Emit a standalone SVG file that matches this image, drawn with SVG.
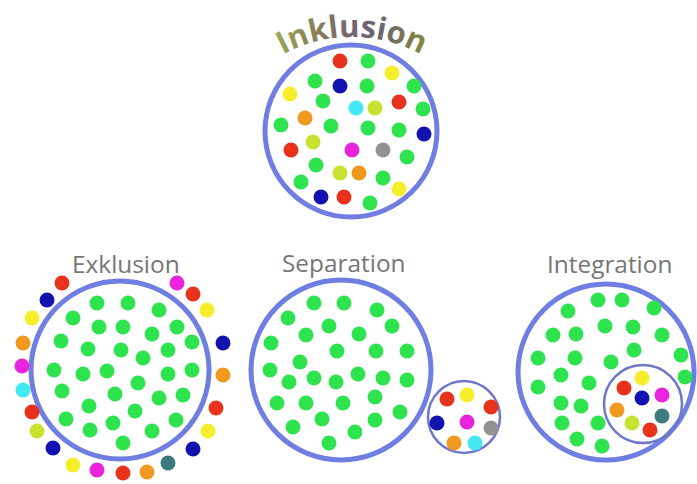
<svg xmlns="http://www.w3.org/2000/svg" width="697" height="484" viewBox="0 0 697 484">
<style>
.ring{fill:none;stroke:#6f7ee0;stroke-width:5}
.ring2{fill:none;stroke:#6f78c8;stroke-width:2.5}
.lbl{font-family:"Open Sans","Liberation Sans",sans-serif;font-size:24.4px;fill:#767676}
.g{fill:#2fe34f}.r{fill:#e8321c}.b{fill:#1212b0}.y{fill:#f6ee2c}.o{fill:#f0991f}
.m{fill:#e824dc}.c{fill:#44e8f2}.yg{fill:#c9e232}.gr{fill:#939393}.t{fill:#3b7a7e}
</style>
<defs>
<linearGradient id="ink" x1="280" y1="0" x2="425" y2="0" gradientUnits="userSpaceOnUse">
<stop offset="0" stop-color="#9aa35a"/>
<stop offset="0.3" stop-color="#86775a"/>
<stop offset="0.5" stop-color="#756272"/>
<stop offset="0.7" stop-color="#6b6670"/>
<stop offset="1" stop-color="#86883a"/>
</linearGradient>
<path id="arc" d="M 242 87.5 A 145 145 0 0 1 462 87.5"/>
</defs>
<rect width="697" height="484" fill="#fff"/>

<g id="inklusion">
<text font-family="'Open Sans','Liberation Sans',sans-serif" font-size="31" font-weight="bold" fill="url(#ink)"><textPath href="#arc" startOffset="50%" text-anchor="middle">Inklusion</textPath></text>
<circle class="ring" cx="351" cy="131" r="86"/>
<circle class="r" cx="340" cy="61" r="7.5"/><circle class="g" cx="368" cy="61" r="7.5"/><circle class="y" cx="392" cy="73" r="7.5"/>
<circle class="g" cx="315" cy="81" r="7.5"/><circle class="b" cx="340" cy="86" r="7.5"/><circle class="g" cx="367" cy="86" r="7.5"/>
<circle class="g" cx="414" cy="86" r="7.5"/><circle class="y" cx="290" cy="94" r="7.5"/><circle class="g" cx="323" cy="101" r="7.5"/>
<circle class="r" cx="399" cy="102" r="7.5"/><circle class="c" cx="356" cy="108" r="7.5"/><circle class="yg" cx="375" cy="108" r="7.5"/>
<circle class="g" cx="423" cy="109" r="7.5"/><circle class="o" cx="305" cy="118" r="7.5"/><circle class="g" cx="281" cy="125" r="7.5"/>
<circle class="g" cx="331" cy="126" r="7.5"/><circle class="g" cx="368" cy="128" r="7.5"/><circle class="g" cx="399" cy="130" r="7.5"/>
<circle class="b" cx="424" cy="134" r="7.5"/><circle class="yg" cx="313" cy="142" r="7.5"/><circle class="r" cx="291" cy="150" r="7.5"/>
<circle class="m" cx="352" cy="150" r="7.5"/><circle class="gr" cx="383" cy="150" r="7.5"/><circle class="g" cx="407" cy="157" r="7.5"/>
<circle class="g" cx="316" cy="165" r="7.5"/><circle class="yg" cx="340" cy="173" r="7.5"/><circle class="o" cx="359" cy="173" r="7.5"/>
<circle class="g" cx="383" cy="178" r="7.5"/><circle class="g" cx="301" cy="182" r="7.5"/><circle class="y" cx="399" cy="189" r="7.5"/>
<circle class="b" cx="321" cy="197" r="7.5"/><circle class="r" cx="344" cy="197" r="7.5"/><circle class="g" cx="370" cy="203" r="7.5"/>
</g>

<g id="exklusion">
<text class="lbl" x="72" y="273">Exklusion</text>
<circle class="ring" cx="120" cy="370" r="89"/>
<circle class="r" cx="62" cy="283" r="7.5"/><circle class="b" cx="47" cy="300" r="7.5"/><circle class="y" cx="32" cy="318" r="7.5"/>
<circle class="o" cx="23" cy="343" r="7.5"/><circle class="m" cx="22" cy="366" r="7.5"/><circle class="c" cx="23" cy="390" r="7.5"/>
<circle class="r" cx="32" cy="412" r="7.5"/><circle class="yg" cx="37" cy="431" r="7.5"/><circle class="b" cx="53" cy="448" r="7.5"/>
<circle class="y" cx="73" cy="465" r="7.5"/><circle class="m" cx="97" cy="470" r="7.5"/><circle class="r" cx="123" cy="473" r="7.5"/>
<circle class="o" cx="147" cy="472" r="7.5"/><circle class="t" cx="168" cy="463" r="7.5"/><circle class="b" cx="193" cy="449" r="7.5"/>
<circle class="y" cx="208" cy="431" r="7.5"/><circle class="r" cx="216" cy="408" r="7.5"/><circle class="o" cx="223" cy="375" r="7.5"/>
<circle class="b" cx="223" cy="343" r="7.5"/><circle class="y" cx="207" cy="310" r="7.5"/><circle class="r" cx="193" cy="294" r="7.5"/>
<circle class="m" cx="177" cy="283" r="7.5"/>
<g class="g">
<circle cx="97" cy="303" r="7.5"/><circle cx="128" cy="303" r="7.5"/><circle cx="159" cy="310" r="7.5"/><circle cx="73" cy="318" r="7.5"/>
<circle cx="99" cy="327" r="7.5"/><circle cx="123" cy="327" r="7.5"/><circle cx="152" cy="334" r="7.5"/><circle cx="177" cy="327" r="7.5"/>
<circle cx="61" cy="341" r="7.5"/><circle cx="88" cy="349" r="7.5"/><circle cx="121" cy="350" r="7.5"/><circle cx="168" cy="350" r="7.5"/>
<circle cx="192" cy="342" r="7.5"/><circle cx="143" cy="358" r="7.5"/><circle cx="54" cy="370" r="7.5"/><circle cx="83" cy="374" r="7.5"/>
<circle cx="107" cy="371" r="7.5"/><circle cx="168" cy="374" r="7.5"/><circle cx="192" cy="370" r="7.5"/><circle cx="138" cy="383" r="7.5"/>
<circle cx="62" cy="391" r="7.5"/><circle cx="115" cy="394" r="7.5"/><circle cx="159" cy="398" r="7.5"/><circle cx="183" cy="395" r="7.5"/>
<circle cx="89" cy="406" r="7.5"/><circle cx="135" cy="411" r="7.5"/><circle cx="66" cy="419" r="7.5"/><circle cx="113" cy="423" r="7.5"/>
<circle cx="176" cy="420" r="7.5"/><circle cx="90" cy="430" r="7.5"/><circle cx="152" cy="431" r="7.5"/><circle cx="123" cy="443" r="7.5"/>
</g>
</g>

<g id="separation">
<text class="lbl" x="282" y="272">Separation</text>
<circle class="ring" cx="341" cy="370" r="90"/>
<g class="g">
<circle cx="314" cy="303" r="7.5"/><circle cx="344" cy="303" r="7.5"/><circle cx="377" cy="310" r="7.5"/><circle cx="288" cy="318" r="7.5"/>
<circle cx="329" cy="326" r="7.5"/><circle cx="392" cy="326" r="7.5"/><circle cx="306" cy="335" r="7.5"/><circle cx="359" cy="334" r="7.5"/>
<circle cx="271" cy="343" r="7.5"/><circle cx="337" cy="351" r="7.5"/><circle cx="376" cy="351" r="7.5"/><circle cx="407" cy="351" r="7.5"/>
<circle cx="300" cy="362" r="7.5"/><circle cx="270" cy="370" r="7.5"/><circle cx="358" cy="374" r="7.5"/><circle cx="289" cy="382" r="7.5"/>
<circle cx="314" cy="378" r="7.5"/><circle cx="336" cy="382" r="7.5"/><circle cx="383" cy="378" r="7.5"/><circle cx="407" cy="380" r="7.5"/>
<circle cx="375" cy="397" r="7.5"/><circle cx="277" cy="403" r="7.5"/><circle cx="306" cy="403" r="7.5"/><circle cx="343" cy="403" r="7.5"/>
<circle cx="400" cy="412" r="7.5"/><circle cx="322" cy="419" r="7.5"/><circle cx="375" cy="420" r="7.5"/><circle cx="293" cy="427" r="7.5"/>
<circle cx="355" cy="432" r="7.5"/><circle cx="329" cy="443" r="7.5"/>
</g>
<circle class="ring2" cx="464" cy="417" r="36"/>
<circle class="r" cx="447" cy="399" r="7.5"/><circle class="y" cx="467" cy="395" r="7.5"/><circle class="r" cx="491" cy="407" r="7.5"/>
<circle class="b" cx="437" cy="423" r="7.5"/><circle class="m" cx="467" cy="422" r="7.5"/><circle class="gr" cx="491" cy="428" r="7.5"/>
<circle class="o" cx="454" cy="443" r="7.5"/><circle class="c" cx="475" cy="443" r="7.5"/>
</g>

<g id="integration">
<text class="lbl" x="547" y="273">Integration</text>
<circle class="ring" cx="606" cy="372" r="88"/>
<g class="g">
<circle cx="598" cy="300" r="7.5"/><circle cx="622" cy="300" r="7.5"/><circle cx="654" cy="308" r="7.5"/><circle cx="568" cy="311" r="7.5"/>
<circle cx="605" cy="326" r="7.5"/><circle cx="633" cy="327" r="7.5"/><circle cx="553" cy="335" r="7.5"/><circle cx="576" cy="334" r="7.5"/>
<circle cx="662" cy="335" r="7.5"/><circle cx="634" cy="350" r="7.5"/><circle cx="681" cy="355" r="7.5"/><circle cx="538" cy="358" r="7.5"/>
<circle cx="575" cy="358" r="7.5"/><circle cx="611" cy="362" r="7.5"/><circle cx="561" cy="375" r="7.5"/><circle cx="685" cy="377" r="7.5"/>
<circle cx="538" cy="387" r="7.5"/><circle cx="589" cy="383" r="7.5"/><circle cx="561" cy="403" r="7.5"/><circle cx="581" cy="406" r="7.5"/>
<circle cx="562" cy="423" r="7.5"/><circle cx="598" cy="423" r="7.5"/><circle cx="577" cy="439" r="7.5"/><circle cx="602" cy="446" r="7.5"/>
</g>
<circle class="ring2" cx="643" cy="404" r="39"/>
<circle class="r" cx="624" cy="388" r="7.5"/><circle class="y" cx="642" cy="378" r="7.5"/><circle class="b" cx="642" cy="398" r="7.5"/>
<circle class="m" cx="662" cy="395" r="7.5"/><circle class="o" cx="617" cy="410" r="7.5"/><circle class="t" cx="662" cy="416" r="7.5"/>
<circle class="yg" cx="632" cy="423" r="7.5"/><circle class="r" cx="650" cy="430" r="7.5"/>
</g>
</svg>
